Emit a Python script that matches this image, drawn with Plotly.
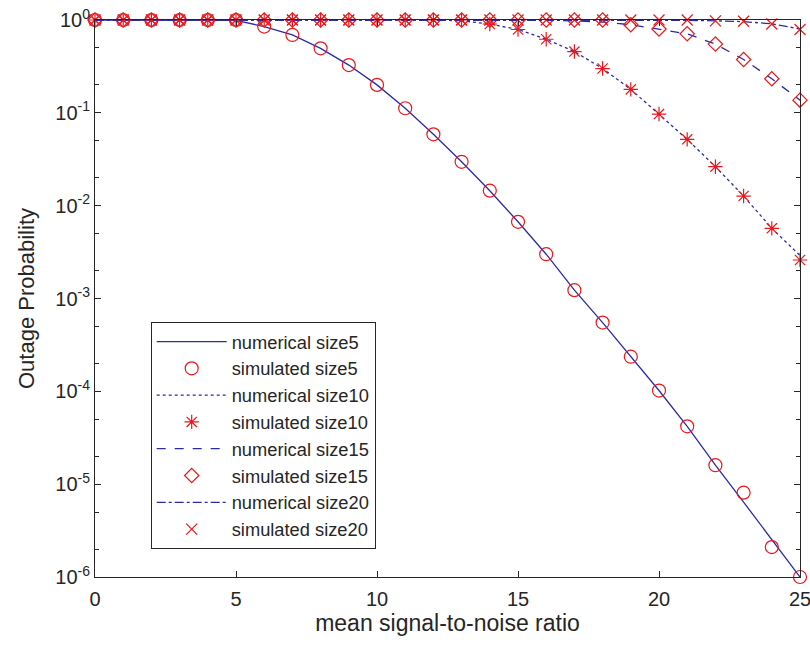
import plotly.graph_objects as go

snr = list(range(26))

num5 = [1, 1, 1, 1, 1, 0.99, 0.85, 0.69, 0.495, 0.327, 0.2, 0.112, 0.0587, 0.0297, 0.0145,
        0.0067, 0.0030, 0.00123, 0.00055, 2.36e-4, 1.02e-4, 4.2e-5, 1.6e-5, 6.4e-6, 2.5e-6, 1.0e-6]
sim5 = [1, 1, 1, 1, 1, 1, 0.85, 0.69, 0.495, 0.327, 0.2, 0.112, 0.0587, 0.0297, 0.0145,
        0.0067, 0.0030, 0.00123, 0.00055, 2.36e-4, 1.02e-4, 4.2e-5, 1.6e-5, 8.1e-6, 2.1e-6, 1.0e-6]
num10 = [1, 1, 1, 1, 1, 1, 1, 1, 1, 1, 1, 1, 1, 0.98, 0.905,
         0.79, 0.62, 0.457, 0.30, 0.179, 0.097, 0.0518, 0.0263, 0.0127, 0.0057, 0.0029]
sim10 = [1, 1, 1, 1, 1, 1, 1, 1, 1, 1, 1, 1, 1, 1, 0.905,
         0.79, 0.62, 0.457, 0.30, 0.179, 0.097, 0.0518, 0.0263, 0.0127, 0.0057, 0.0026]
num15 = [1, 1, 1, 1, 1, 1, 1, 1, 1, 1, 1, 1, 1, 1, 1,
         1, 0.995, 0.98, 0.95, 0.89, 0.80, 0.71, 0.55, 0.375, 0.233, 0.137]
sim15 = [1, 1, 1, 1, 1, 1, 1, 1, 1, 1, 1, 1, 1, 1, 1,
         1, 1, 1, 1, 0.89, 0.80, 0.71, 0.55, 0.375, 0.233, 0.137]
num20 = [1, 1, 1, 1, 1, 1, 1, 1, 1, 1, 1, 1, 1, 1, 1,
         1, 1, 1, 1, 1, 1, 0.99, 0.98, 0.96, 0.91, 0.80]
sim20 = [1, 1, 1, 1, 1, 1, 1, 1, 1, 1, 1, 1, 1, 1, 1,
         1, 1, 1, 1, 1, 1, 1, 0.98, 0.97, 0.905, 0.79]

x_ticks = [0, 5, 10, 15, 20, 25]
y_ticks = [1, 0.1, 0.01, 0.001, 1e-4, 1e-5, 1e-6]
y_ticktext = ["10<sup>0</sup>", "10<sup>-1</sup>", "10<sup>-2</sup>", "10<sup>-3</sup>",
              "10<sup>-4</sup>", "10<sup>-5</sup>", "10<sup>-6</sup>"]

BLUE = "#2b2ba6"
RED = "#e8181c"
INK = "#262626"
FONT = "Liberation Sans, Arial, sans-serif"

fig = go.Figure()

def line(y, dash, name):
    fig.add_trace(go.Scatter(x=snr, y=y, mode="lines", name=name,
                             line=dict(color=BLUE, width=1.3, dash=dash), cliponaxis=False))

def mark(y, symbol, name, size=12):
    fig.add_trace(go.Scatter(x=snr, y=y, mode="markers", name=name, cliponaxis=False,
                             marker=dict(symbol=symbol, size=size, color=RED,
                                         line=dict(color=RED, width=1.2))))

line(num5, "solid", "numerical size5")
mark(sim5, "circle-open", "simulated size5", 13)
line(num10, "dot", "numerical size10")
mark(sim10, "asterisk-open", "simulated size10", 12)
line(num15, "dash", "numerical size15")
mark(sim15, "diamond-open", "simulated size15", 11)
line(num20, "dashdot", "numerical size20")
mark(sim20, "x-thin-open", "simulated size20", 11)

axis_font = dict(family=FONT, size=20, color=INK)

fig.update_layout(
    width=810, height=645,
    margin=dict(l=95, r=10, t=20, b=68),
    paper_bgcolor="white", plot_bgcolor="white",
    font=axis_font,
    showlegend=True,
    legend=dict(x=0.079, y=0.05, xanchor="left", yanchor="bottom",
                bgcolor="white", bordercolor=INK, borderwidth=1,
                font=dict(family=FONT, size=18.3, color=INK),
                tracegroupgap=0, itemwidth=70),
    xaxis=dict(range=[0, 25.0001], tickvals=x_ticks, ticks="inside", ticklen=6,
               tickcolor=INK, ticklabeloverflow="allow", ticklabelstandoff=4,
               showline=True, linecolor=INK, linewidth=1, mirror="ticks",
               showgrid=False, zeroline=False, automargin=False,
               title=dict(text="mean signal-to-noise ratio", font=dict(family=FONT, size=23, color=INK),
                          standoff=3),
               tickfont=axis_font),
    yaxis=dict(type="log", range=[-6, 0], tickvals=y_ticks, ticktext=y_ticktext,
               ticks="inside", ticklen=6, tickcolor=INK,
               showline=True, linecolor=INK, linewidth=1, mirror="ticks",
               showgrid=False, zeroline=False, automargin=False,
               minor=dict(ticks="inside", ticklen=4, tickcolor=INK, showgrid=False),
               title=dict(text="Outage Probability", font=dict(family=FONT, size=22, color=INK),
                          standoff=14),
               tickfont=axis_font),
)

fig.write_html("out.html", config={"displayModeBar": False},
               post_script="document.body.style.margin='0';document.body.style.overflow='hidden';")
